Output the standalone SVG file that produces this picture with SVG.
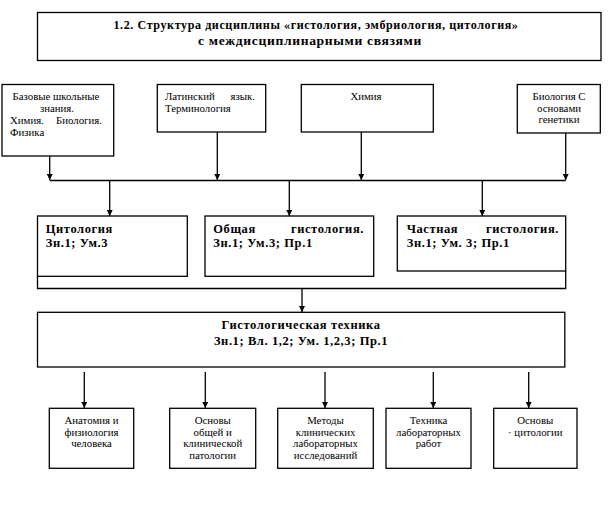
<svg xmlns="http://www.w3.org/2000/svg" width="614" height="529" viewBox="0 0 614 529">
<style>
.box{fill:#fff;stroke:#000;stroke-width:1.3}
.ln{fill:none;stroke:#000;stroke-width:1.3}
.t{font-family:'Liberation Serif','DejaVu Serif','Times New Roman',serif;font-size:10.8px;fill:#000}
.b{font-family:'Liberation Serif','DejaVu Serif','Times New Roman',serif;font-size:12.5px;font-weight:bold;letter-spacing:0.6px;fill:#000}
.c{text-anchor:middle}
.r{text-anchor:end}
</style>
<defs>
<marker id="ah" viewBox="0 0 10 10" refX="10" refY="5" markerWidth="6" markerHeight="6" orient="auto" markerUnits="userSpaceOnUse">
<path d="M0,0 L10,5 L0,10 Z" fill="#000"/>
</marker>
</defs>
<rect width="614" height="529" fill="#fff"/>
<g id="title">
<rect class="box" x="37.5" y="12.5" width="563.5" height="48"/>
<text class="b c" x="316" y="29" textLength="405" lengthAdjust="spacingAndGlyphs">1.2. Структура дисциплины «гистология, эмбриология, цитология»</text>
<text class="b c" x="310" y="45" textLength="224" lengthAdjust="spacingAndGlyphs">с междисциплинарными связями</text>
</g>
<g id="connectors">
<line class="ln" x1="49.7" y1="156" x2="49.7" y2="180" marker-end="url(#ah)"/>
<line class="ln" x1="217.3" y1="132" x2="217.3" y2="180" marker-end="url(#ah)"/>
<line class="ln" x1="361.3" y1="132" x2="361.3" y2="180" marker-end="url(#ah)"/>
<line class="ln" x1="565.7" y1="133" x2="565.7" y2="180" marker-end="url(#ah)"/>
<line class="ln" x1="49.7" y1="180.5" x2="565.7" y2="180.5"/>
<line class="ln" x1="109.7" y1="180" x2="109.7" y2="216" marker-end="url(#ah)"/>
<line class="ln" x1="289.3" y1="180" x2="289.3" y2="216" marker-end="url(#ah)"/>
<line class="ln" x1="482.3" y1="180" x2="482.3" y2="216" marker-end="url(#ah)"/>
<polyline class="ln" points="37.5,276 37.5,288.5 565.7,288.5 565.7,271"/>
<line class="ln" x1="302" y1="288.5" x2="302" y2="312" marker-end="url(#ah)"/>
<line class="ln" x1="84.3" y1="372" x2="84.3" y2="408" marker-end="url(#ah)"/>
<line class="ln" x1="205.3" y1="372" x2="205.3" y2="408" marker-end="url(#ah)"/>
<line class="ln" x1="325" y1="372" x2="325" y2="408" marker-end="url(#ah)"/>
<line class="ln" x1="433.3" y1="372" x2="433.3" y2="408" marker-end="url(#ah)"/>
<line class="ln" x1="528.7" y1="372" x2="528.7" y2="408" marker-end="url(#ah)"/>
</g>
<g id="n-base">
<rect class="box" x="2" y="84.5" width="111.7" height="71.5"/>
<text class="t c" x="56" y="100">Базовые школьные</text>
<text class="t c" x="57" y="112">знания.</text>
<text class="t" x="10" y="124">Химия.</text>
<text class="t r" x="102" y="124">Биология.</text>
<text class="t" x="10" y="136">Физика</text>
</g>
<g id="n-latin">
<rect class="box" x="157.3" y="84.5" width="108.4" height="47.5"/>
<text class="t" x="165" y="100">Латинский</text>
<text class="t r" x="255" y="100">язык.</text>
<text class="t" x="165" y="112">Терминология</text>
</g>
<g id="n-chem">
<rect class="box" x="301.3" y="84.5" width="132" height="47.5"/>
<text class="t c" x="366" y="100">Химия</text>
</g>
<g id="n-bio">
<rect class="box" x="517.3" y="84.5" width="83" height="48.5"/>
<text class="t c" x="559" y="100">Биология С</text>
<text class="t c" x="559" y="112">основами</text>
<text class="t c" x="559" y="123">генетики</text>
</g>
<g id="n-cyto">
<rect class="box" x="37.5" y="216" width="149.8" height="60.3"/>
<text class="b" x="45.7" y="233">Цитология</text>
<text class="b" x="45.7" y="247">Зн.1; Ум.3</text>
</g>
<g id="n-general">
<rect class="box" x="205" y="216" width="168.7" height="60.3"/>
<text class="b" x="213.3" y="233">Общая</text>
<text class="b r" x="364" y="233">гистология.</text>
<text class="b" x="213.3" y="247">Зн.1; Ум.3; Пр.1</text>
</g>
<g id="n-special">
<rect class="box" x="397.3" y="216" width="168.4" height="55"/>
<text class="b" x="406.7" y="233">Частная</text>
<text class="b r" x="559" y="233">гистология.</text>
<text class="b" x="406.7" y="247">Зн.1; Ум. 3; Пр.1</text>
</g>
<g id="n-tech">
<rect class="box" x="37.5" y="312.3" width="527.3" height="54.7"/>
<text class="b c" x="301" y="329">Гистологическая техника</text>
<text class="b c" x="301" y="345">Зн.1; Вл. 1,2; Ум. 1,2,3; Пр.1</text>
</g>
<g id="n-anat">
<rect class="box" x="49.3" y="408.3" width="84.4" height="60"/>
<text class="t c" x="91.5" y="424">Анатомия и</text>
<text class="t c" x="91.5" y="436">физиология</text>
<text class="t c" x="91.5" y="447">человека</text>
</g>
<g id="n-path">
<rect class="box" x="169.7" y="408.3" width="86" height="60"/>
<text class="t c" x="212.7" y="424">Основы</text>
<text class="t c" x="212.7" y="436">общей и</text>
<text class="t c" x="212.7" y="447">клинической</text>
<text class="t c" x="212.7" y="459">патологии</text>
</g>
<g id="n-methods">
<rect class="box" x="277.7" y="408.3" width="95.6" height="60"/>
<text class="t c" x="325.5" y="424">Методы</text>
<text class="t c" x="325.5" y="436">клинических</text>
<text class="t c" x="325.5" y="447">лабораторных</text>
<text class="t c" x="325.5" y="459">исследований</text>
</g>
<g id="n-labtech">
<rect class="box" x="386" y="408.3" width="85" height="60"/>
<text class="t c" x="428.5" y="424">Техника</text>
<text class="t c" x="428.5" y="436">лабораторных</text>
<text class="t c" x="428.5" y="447">работ</text>
</g>
<g id="n-cytobase">
<rect class="box" x="493.7" y="408.3" width="83.3" height="60"/>
<text class="t c" x="535.3" y="424">Основы</text>
<text class="t c" x="535.3" y="436">· цитологии</text>
</g>
</svg>
